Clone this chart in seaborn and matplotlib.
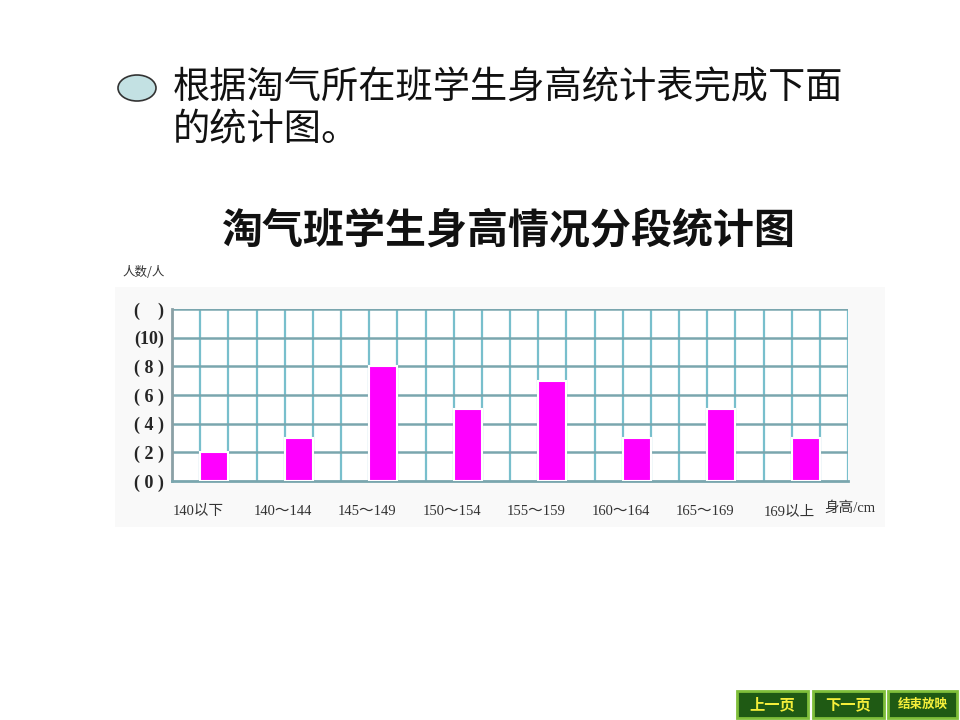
import numpy as np
import pandas as pd
import matplotlib.pyplot as plt
import matplotlib.transforms as mtrans
from matplotlib.patches import Ellipse, Rectangle, FancyBboxPatch
import seaborn as sns

# data
heights = ['140以下', '140～144', '145～149', '150～154',
           '155～159', '160～164', '165～169', '169以上']
counts = [2, 3, 8, 5, 7, 3, 5, 3]
y_ticks = [0, 2, 4, 6, 8, 10, 12]
y_labels = ['( 0 )', '( 2 )', '( 4 )', '( 6 )', '( 8 )', '(10)', '(    )']

sns.set_style('white')
plt.rcParams['font.family'] = ['Noto Sans CJK SC', 'DejaVu Sans']

df = pd.DataFrame({'身高': heights, '人数': counts})

fig = plt.figure(figsize=(9.6, 7.2), dpi=100)

# faint panel behind the chart
panel = Rectangle((115 / 960, 1 - 527 / 720), 770 / 960, 240 / 720,
                  transform=fig.transFigure, facecolor='#f9f9f9',
                  edgecolor='none', zorder=-5)
fig.add_artist(panel)

# bullet + question text
fig.patches.append(Ellipse((137 / 960, 1 - 88 / 720), 38 / 960, 26 / 720,
                           transform=fig.transFigure, facecolor='#c3e1e3',
                           edgecolor='#333333', linewidth=1.2))
fig.text(173 / 960, 1 - 88 / 720, '根据淘气所在班学生身高统计表完成下面',
         fontsize=26.8, va='center', ha='left', color='#111111')
fig.text(173 / 960, 1 - 130 / 720, '的统计图。',
         fontsize=26.8, va='center', ha='left', color='#111111')

# chart title
fig.text(508 / 960, 1 - 230 / 720, '淘气班学生身高情况分段统计图',
         fontsize=29.5, fontweight='bold', va='center', ha='center', color='#111111')

ax = fig.add_axes([172 / 960, 1 - 481 / 720, 676 / 960, 172 / 720])
ax.set_zorder(2)
ax.set_facecolor('white')

sns.barplot(data=df, x='身高', y='人数', color='#ff00ff', width=1 / 3,
            edgecolor='white', linewidth=1.5, saturation=1, ax=ax, zorder=3)

ax.set_xlim(-0.5, 7.5)
ax.set_ylim(0, 12)

# grid: 3 cells per category, one row per 2 people
for k in range(25):
    ax.axvline(-0.5 + k / 3, color='#78bfcc', linewidth=1.6, zorder=1)
for v in y_ticks[1:]:
    ax.axhline(v, color='#7aa6ae', linewidth=1.8, zorder=1)

for s in ['top', 'right']:
    ax.spines[s].set_visible(False)
ax.spines['left'].set_color('#8aa0a5')
ax.spines['left'].set_linewidth(2)
ax.spines['bottom'].set_color('#7aa6ae')
ax.spines['bottom'].set_linewidth(2)

ax.set_yticks(y_ticks)
ax.set_yticklabels(y_labels, fontsize=13, fontweight='bold',
                   family=['Liberation Serif', 'DejaVu Serif'])
ax.tick_params(axis='y', length=0, pad=6)
ax.set_xticks(range(len(heights)))
ax.set_xticklabels(heights, fontsize=10.5, color='#333333', va='center',
                   family=['Liberation Serif', 'Noto Sans CJK SC'])
ax.tick_params(axis='x', length=0, pad=22)
shift = mtrans.ScaledTranslation(-0.16, 0, fig.dpi_scale_trans)
for lab in ax.get_xticklabels():
    lab.set_transform(lab.get_transform() + shift)
ax.set_xlabel('')
ax.set_ylabel('')

fig.text(122 / 960, 1 - 273 / 720, '人数/人', fontsize=9, color='#333333',
         va='center', ha='left')
fig.text(824 / 960, 1 - 508 / 720, '身高/cm', fontsize=10.5, color='#333333',
         va='center', ha='left', family=['Liberation Serif', 'Noto Sans CJK SC'])

# navigation buttons
buttons = [('上一页', 737, 808), ('下一页', 813, 884), ('结束放映', 888, 957)]
for label, x0, x1 in buttons:
    fig.patches.append(FancyBboxPatch((x0 / 960, 1 - 718 / 720), (x1 - x0) / 960, 27 / 720,
                                      boxstyle='square,pad=0', transform=fig.transFigure,
                                      facecolor='#1f5a14', edgecolor='#7fbf3a',
                                      linewidth=2))
    fig.text((x0 + x1) / 2 / 960, 1 - 704 / 720, label, fontsize=11 if len(label) == 3 else 9,
             fontweight='bold', color='#f4ee3a', ha='center', va='center')

plt.savefig('out.png', dpi=100)
